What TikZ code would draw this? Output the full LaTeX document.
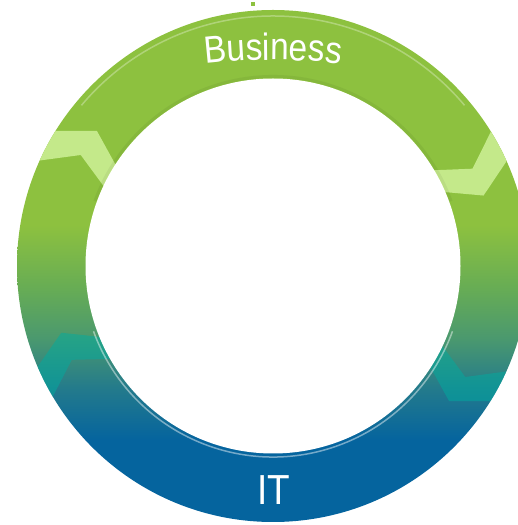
\documentclass[tikz,border=0pt]{standalone}
\usepackage{fontspec}
\newfontfamily\labelfont[FakeStretch=0.88]{Liberation Sans}
\usetikzlibrary{decorations.text}
\definecolor{bizgreen}{RGB}{141,193,63}
\definecolor{midgreen}{RGB}{104,173,84}
\definecolor{midteal}{RGB}{75,153,110}
\definecolor{deepteal}{RGB}{35,122,140}
\definecolor{itblue}{RGB}{5,100,158}
\definecolor{chevgreen}{RGB}{196,233,138}
\definecolor{chevteal}{RGB}{0,172,160}
\pgfdeclareverticalshading{ringshade}{100bp}{color(0bp)=(itblue); color(33bp)=(itblue); color(38bp)=(deepteal); color(43bp)=(midteal); color(48bp)=(midgreen); color(54bp)=(bizgreen); color(100bp)=(bizgreen)}
\newcommand\bizfont{\labelfont\fontsize{38}{38}\selectfont}
\begin{document}
\begin{tikzpicture}[x=1pt, y=1pt,
    chevtop/.style={fill=chevgreen},
    chevbottom/.style={fill=chevteal, fill opacity=.5},
    glint/.style={white, line width=1.5pt}]
            \useasboundingbox (0,0) rectangle (518,525);
            % ring
            \shade[shading=ringshade] (273,259) circle (256);
            \begin{scope}[shift={(273,259)}]
              \clip (0,0) circle (256);
              \foreach \a/\s in {150/chevtop, 26/chevtop, 205/chevbottom, -30/chevbottom}
                \fill[\s] (\a:270) -- ({\a-7.5}:222) -- ({\a-1.5}:180) -- ({\a+6}:180) -- (\a:222) -- ({\a+7.5}:270) -- cycle;
              \fill[white] (0,0) circle (187.5);
              \draw[black, opacity=.05, line width=3pt] (20:189.5) arc[start angle=20, end angle=160, radius=189.5];
              \draw[glint, opacity=.3] (40:250) arc[start angle=40, end angle=140, radius=250];
              \draw[glint, opacity=.45] (200:191) arc[start angle=200, end angle=340, radius=191];
            \end{scope}
            \fill[bizgreen] (251,519) rectangle (255,523);
            % labels
            \path[decorate, decoration={text along path, text align=center, text color=white,
                text={|\bizfont|Business}}] (180.7,457.7) arc[start angle=99, end angle=81, radius=590];
            \node[text=white, font=\labelfont\fontsize{42}{42}\selectfont, anchor=base, inner sep=0] (it) at (274,20) {IT};
\end{tikzpicture}
\end{document}
